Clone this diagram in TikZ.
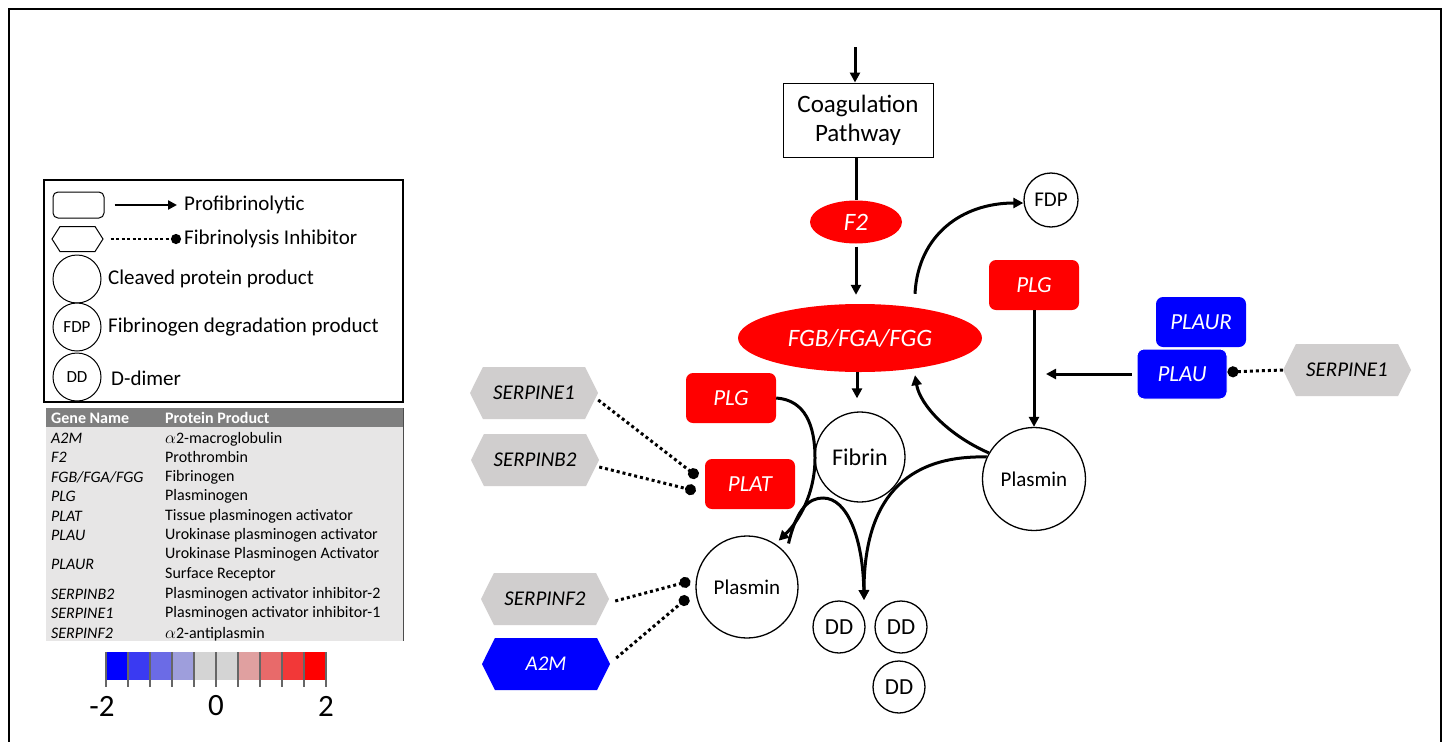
\documentclass[tikz,border=0pt]{standalone}
\usepackage{fontspec}
\setmainfont{Carlito}
\usetikzlibrary{arrows.meta,shapes.symbols,shapes.geometric}
\definecolor{rd}{HTML}{FF0000}
\definecolor{bl}{HTML}{0000FF}
\definecolor{gr}{HTML}{D0CECE}
\definecolor{tbl}{HTML}{E7E6E6}
\definecolor{hdr}{HTML}{7F7F7F}
\newcommand\fsz[2]{\fontsize{#1}{#2}\selectfont}
\tikzset{
  gene/.style={rounded corners=7pt, minimum width=90pt, minimum height=50pt, inner sep=0pt, font=\fsz{23}{28}\itshape, text=white},
  redbox/.style={gene, fill=rd},
  bluebox/.style={gene, fill=bl},
  inhib/.style={signal, signal to=east and west, signal pointer angle=127, minimum width=128pt, minimum height=52pt, inner sep=0pt, fill=gr, font=\fsz{21}{25}\itshape},
  circ/.style={circle, draw, line width=1.3pt, inner sep=0pt, fill=white},
  act/.style={line width=3pt, -{Triangle[length=10pt,width=10pt]}},
  inh/.style={line width=3pt, dash pattern=on 3pt off 3pt, -{Circle[length=11pt]}},
  lgtext/.style={anchor=west, inner sep=3pt, font=\fsz{21}{25}},
  tgene/.style={anchor=west, inner sep=0pt, font=\fsz{16}{19}\itshape},
  tprot/.style={anchor=west, inner sep=0pt, font=\fsz{16}{20}, align=left},
}
\begin{document}
\begin{tikzpicture}[x=1pt,y=-1pt]
\useasboundingbox (0,0) rectangle (1444,742);
\fill[white] (0,0) rectangle (1444,742);
\draw[line width=1.5pt] (9,742) -- (9,9) -- (1441,9) -- (1441,742);

% ---------- main diagram ----------
\coordinate (topin) at (855,47);
\node[draw, line width=1pt, minimum width=150pt, minimum height=74pt, align=center, font=\fsz{25}{29}] (coag) at (858,120) {Coagulation\\Pathway};
\draw[act] (topin) -- (topin |- coag.north);
\node[ellipse, fill=rd, minimum width=92pt, minimum height=43pt, inner sep=0pt, text=white, font=\fsz{25}{30}\itshape] (f2) at (856,222) {F2};
\draw[line width=3pt] (coag.south -| f2.north) -- (f2.north);
\node[ellipse, fill=rd, minimum width=244pt, minimum height=68pt, inner sep=0pt, text=white, font=\fsz{25}{30}\itshape] (fg) at (860,338) {FGB/FGA/FGG};
\draw[act, shorten >=9pt, shorten <=3pt] (f2.south) -- (f2.south |- fg.north);

\node[circ, minimum size=90pt, font=\fsz{24}{28}] (fib) at (860,457) {Fibrin};
\draw[act, shorten >=13pt] ([xshift=-3pt]fg.south) -- ([xshift=-3pt]fg.south |- fib.north);

\node[circ, minimum size=54pt, font=\fsz{21}{25}] (fdp) at (1051,200) {FDP};
\draw[act] ([xshift=55pt,yshift=10pt]fg.north) .. controls (918,235) and (962,203) .. ([yshift=-3pt]fdp.west);

\node[redbox] (plg2) at (1034,285) {PLG};
\node[circ, minimum size=103pt, font=\fsz{21}{25}] (pl2) at (1034,479) {Plasmin};
\draw[act] (plg2.south) -- (pl2.north);

\node[bluebox] (plaur) at (1201,322) {PLAUR};
\node[bluebox, draw=white, line width=1pt] (plau) at (1182,374) {PLAU};
\draw[act, shorten >=12pt] ([xshift=-5pt]plau.west) -- (plau.west -| pl2.north);
\node[inhib] (se1b) at (1347,370) {SERPINE1};
\draw[inh] (se1b.west) -- ([yshift=2pt]plau.east);

\node[redbox] (plg1) at (731,398) {PLG};
\node[redbox] (plat) at (750,484) {PLAT};
\node[circ, minimum size=102pt, font=\fsz{21}{25}] (pl1) at (747,587) {Plasmin};

\node[inhib] (se1a) at (534,393) {SERPINE1};
\node[inhib] (sb2) at (535,460) {SERPINB2};
\node[inhib] (sf2) at (545,599) {SERPINF2};
\node[inhib, fill=bl, text=white] (a2m) at (546,664) {A2M};

\draw[inh] ([yshift=-7pt]se1a.east) -- ([xshift=-7pt,yshift=7pt]plat.west);
\draw[inh] ([yshift=-7pt]sb2.east) -- ([xshift=-9pt,yshift=-7pt]plat.west);
\draw[inh] ([xshift=6pt,yshift=-2pt]sf2.east) -- ([xshift=-5pt,yshift=6pt]pl1.west);
\draw[inh] ([xshift=6pt,yshift=6pt]a2m.east) -- ([xshift=-7pt,yshift=-10pt]pl1.west);

\node[circ, minimum size=52pt, font=\fsz{23}{27}] (dd1) at (839,627) {DD};
\node[circ, minimum size=52pt, font=\fsz{23}{27}] (dd2) at (901,627) {DD};
\node[circ, minimum size=52pt, font=\fsz{23}{27}] (dd3) at (899,687) {DD};
\coordinate (ddtip) at (864,600);

\draw[act] (plg1.east) .. controls (805,400) and (815,425) .. (815,458)
  .. controls (815,495) and (798,522) .. ([xshift=2pt,yshift=4pt]pl1.55);
\draw[act] ([xshift=5pt,yshift=7pt]pl1.45) .. controls (797,507) and (810,498) .. (823,498)
  .. controls (848,498) and (863,540) .. (ddtip);
\draw[act] (pl2.155) .. controls (905,455) and (864,500) .. (ddtip);
\draw[act] (pl2.150) .. controls (948,435) and (920,405) .. ([xshift=55pt,yshift=-3pt]fg.south);

% ---------- legend ----------
\node[draw, line width=1.2pt, minimum width=359pt, minimum height=222pt, inner sep=0pt] (legend) at (223.5,291) {};
\node[draw, rounded corners=5pt, line width=1pt, minimum width=51pt, minimum height=26pt] (lr) at (78.5,205) {};
\node[lgtext] (lt1) at (181,205) {Profibrinolytic};
\draw[line width=2.5pt, -{Triangle[length=9pt,width=9pt]}, shorten >=4pt] ([xshift=10pt]lr.east) -- (lt1.west);
\node[signal, signal to=east and west, signal pointer angle=115, draw, line width=1pt, minimum width=51pt, minimum height=25pt, inner sep=0pt] (lh) at (77.5,239) {};
\node[lgtext] (lt2) at (181,239) {Fibrinolysis Inhibitor};
\draw[line width=2.5pt, dash pattern=on 3pt off 2.5pt, -{Circle[length=10pt]}] ([xshift=7pt]lh.east) -- (lt2.west);
\node[circ, line width=1pt, minimum size=48pt] (lc1) at (77,279) {};
\node[lgtext] (lt3) at (105,279) {Cleaved protein product};
\node[circ, line width=1pt, minimum size=48pt, font=\fsz{17}{20}] (lc2) at (77,327) {FDP};
\node[lgtext] (lt4) at (105,327) {Fibrinogen degradation product};
\node[circ, line width=1pt, minimum size=48pt, font=\fsz{17}{20}] (lc3) at (77,377) {DD};
\node[lgtext] (lt5) at (108,378) {D-dimer};

% ---------- table ----------
\fill[tbl] (46,427) rectangle (403,641);
\fill[hdr] (46,408) rectangle (403,427);
\draw[black!70, line width=1pt] (403,408) -- (403,641);
\node[anchor=west, inner sep=0pt, font=\fsz{16}{18}\bfseries, text=white] (h1) at (51,418) {Gene Name};
\node[anchor=west, inner sep=0pt, font=\fsz{16}{18}\bfseries, text=white] (h2) at (165,418) {Protein Product};
\node[tgene] (g1) at (51,438) {A2M};      \node[tprot] (p1) at (165,439) {\(\alpha\)2-macroglobulin};
\node[tgene] (g2) at (51,457) {F2};       \node[tprot] (p2) at (165,457) {Prothrombin};
\node[tgene] (g3) at (51,477) {FGB/FGA/FGG}; \node[tprot] (p3) at (165,477) {Fibrinogen};
\node[tgene] (g4) at (51,496) {PLG};      \node[tprot] (p4) at (165,496) {Plasminogen};
\node[tgene] (g5) at (51,516) {PLAT};     \node[tprot] (p5) at (165,516) {Tissue plasminogen activator};
\node[tgene] (g6) at (51,535) {PLAU};     \node[tprot] (p6) at (165,535) {Urokinase plasminogen activator};
\node[tgene] (g7) at (51,564) {PLAUR};    \node[tprot] (p7) at (165,564) {Urokinase Plasminogen Activator\\Surface Receptor};
\node[tgene] (g8) at (51,594) {SERPINB2}; \node[tprot] (p8) at (165,594) {Plasminogen activator inhibitor-2};
\node[tgene] (g9) at (51,613) {SERPINE1}; \node[tprot] (p9) at (165,613) {Plasminogen activator inhibitor-1};
\node[tgene] (g10) at (51,633) {SERPINF2}; \node[tprot] (p10) at (165,634) {\(\alpha\)2-antiplasmin};

% ---------- colour bar ----------
\foreach \c [count=\i from 0] in {0000FF,3A3AF2,6B6BE6,9E9EDC,D4D4D4,D4D4D4,E0A0A0,E86A6A,F23838,FF0000}{
  \definecolor{cc}{HTML}{\c}
  \fill[cc] (106+22*\i,652) rectangle (128+22*\i,680);
}
\foreach \i in {0,...,10}{
  \draw[black!60, line width=1.2pt] (106+22*\i,652) -- (106+22*\i,687);
}
\node[font=\fsz{31}{34}, inner sep=0pt] (lm2) at (102,706) {-2};
\node[font=\fsz{31}{34}, inner sep=0pt] (l0) at (216,706) {0};
\node[font=\fsz{31}{34}, inner sep=0pt] (l2) at (326,706) {2};
\end{tikzpicture}
\end{document}
